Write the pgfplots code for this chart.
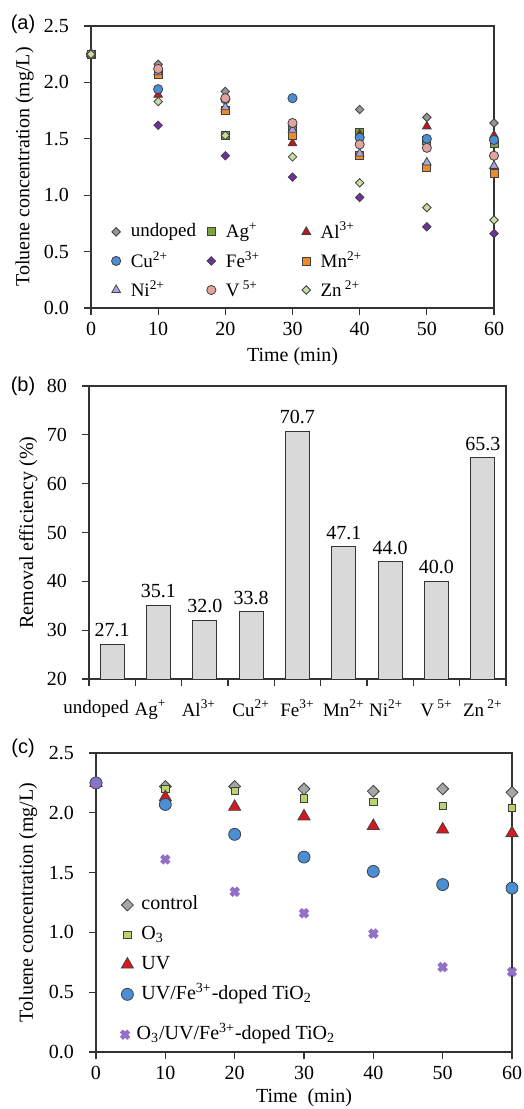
\documentclass[border=0pt]{standalone}
\usepackage{pgfplots}
\pgfplotsset{compat=1.18}
\usepackage{fontspec}
\setmainfont{Liberation Serif}
\newfontfamily\sansf{Liberation Sans}

\definecolor{cUnd}{HTML}{969696}
\definecolor{cAg}{HTML}{7BA33F}
\definecolor{cAl}{HTML}{C0161E}
\definecolor{cCu}{HTML}{4A8FD6}
\definecolor{cFe}{HTML}{7030A0}
\definecolor{cMn}{HTML}{EE8A2A}
\definecolor{cNi}{HTML}{A8A8E0}
\definecolor{cV}{HTML}{E5A3A0}
\definecolor{cZn}{HTML}{C8DCA0}
\definecolor{cCtl}{HTML}{A6A6A6}
\definecolor{cO3}{HTML}{B9D36E}
\definecolor{cUV}{HTML}{D7191F}
\definecolor{cUVFe}{HTML}{4A8FD6}
\definecolor{cX}{HTML}{9370C8}
\definecolor{barGray}{HTML}{D9D9D9}

\pgfplotsset{
  /pgf/number format/assume math mode=true,
  myax/.style={
    scale only axis,
    axis line style={line width=0.7pt, draw=black!80},
    tick style={line width=0.6pt, draw=black!80},
    tick align=outside,
    major tick length=3.5pt,
    minor tick length=3.5pt,
    xtick pos=left, ytick pos=left,
    font=\fontsize{10}{12}\selectfont,
    yticklabel style={xshift=-4pt},
  },
  mk/.style={only marks, mark options={draw=black!75, line width=0.4pt, fill=#1}},
  mkd/.style={only marks, mark=square*, mark options={draw=black!75, line width=0.4pt, fill=#1, rotate=45}},
  cleg/.style={
    legend image code/.code={\draw[##1] plot coordinates {(0pt,0pt)};},
    legend cell align=left,
    legend style={draw=none, fill=none, inner sep=0pt,
      font=\fontsize{10}{12}\selectfont,
      nodes={inner sep=2pt, text height=7.5pt, text depth=2.5pt},
      /tikz/every odd column/.append style={column sep=2pt},
      /tikz/row sep=0.9pt},
  },
}

\begin{document}
\begin{tikzpicture}
\useasboundingbox (0,0) rectangle (262pt,-554.5pt);

% ---------------- (a) ----------------
\begin{axis}[myax,
  at={(45.5pt,-154pt)}, anchor=south west,
  width=201.5pt, height=141pt,
  xmin=0, xmax=60, ymin=0, ymax=2.5,
  xtick={0,10,...,60}, ytick={0,0.5,...,2.5},
  yticklabel style={/pgf/number format/.cd, fixed, fixed zerofill, precision=1},
  clip=false,
  xlabel={Time (min)},
  xlabel style={at={(axis description cs:0.5,-0.172)}, anchor=center},
  ylabel={Toluene concentration (mg/L)},
  ylabel style={at={(axis description cs:-0.165,0.5)}, anchor=center},
  legend columns=3,
  legend image code/.code={\draw[#1] plot coordinates {(0pt,0pt)};},
  legend style={draw=none, fill=none, inner sep=0pt,
    at={(axis description cs:0.05,0.32)}, anchor=north west,
    font=\fontsize{9.5}{11}\selectfont,
    nodes={text width=36pt, align=left, inner sep=2pt},
    /tikz/every odd column/.append style={column sep=3pt},
    /tikz/row sep=0.8pt},
]
\addplot[mkd=cUnd, mark size=1.5pt] coordinates {(0,2.25)(10,2.16)(20,1.92)(30,1.62)(40,1.76)(50,1.69)(60,1.64)};
\addlegendentry{undoped}
\addplot[mk=cAg, mark=square*, mark size=2pt] coordinates {(0,2.25)(10,2.08)(20,1.53)(30,1.60)(40,1.56)(50,1.49)(60,1.46)};
\addlegendentry{Ag\textsuperscript{+}}
\addplot[mk=cAl, mark=triangle*, mark size=2.5pt] coordinates {(0,2.25)(10,1.89)(20,1.76)(30,1.46)(40,1.54)(50,1.61)(60,1.53)};
\addlegendentry{Al\textsuperscript{3+}}
\addplot[mk=cCu, mark=*, mark size=2.3pt] coordinates {(0,2.25)(10,1.94)(20,1.85)(30,1.86)(40,1.51)(50,1.50)(60,1.49)};
\addlegendentry{Cu\textsuperscript{2+}}
\addplot[mkd=cFe, mark size=1.5pt] coordinates {(0,2.25)(10,1.62)(20,1.35)(30,1.16)(40,0.98)(50,0.72)(60,0.66)};
\addlegendentry{Fe\textsuperscript{3+}}
\addplot[mk=cMn, mark=square*, mark size=2pt] coordinates {(0,2.25)(10,2.07)(20,1.75)(30,1.53)(40,1.35)(50,1.25)(60,1.19)};
\addlegendentry{Mn\textsuperscript{2+}}
\addplot[mk=cNi, mark=triangle*, mark size=2.5pt] coordinates {(0,2.25)(10,2.09)(20,1.78)(30,1.58)(40,1.37)(50,1.29)(60,1.26)};
\addlegendentry{Ni\textsuperscript{2+}}
\addplot[mk=cV, mark=*, mark size=2.3pt] coordinates {(0,2.25)(10,2.12)(20,1.86)(30,1.64)(40,1.45)(50,1.42)(60,1.35)};
\addlegendentry{V\,\textsuperscript{5+}}
\addplot[mkd=cZn, mark size=1.5pt] coordinates {(0,2.25)(10,1.83)(20,1.53)(30,1.34)(40,1.11)(50,0.89)(60,0.78)};
\addlegendentry{Zn\,\textsuperscript{2+}}
\end{axis}

% ---------------- (b) ----------------
\begin{axis}[myax,
  at={(44.5pt,-339.5pt)}, anchor=south west,
  width=208.5pt, height=146.5pt,
  ymin=20, ymax=80, ytick={20,30,...,80},
  xmin=-0.5, xmax=8.5,
  xtick={0,...,8},
  xticklabels={undoped\hspace{16pt}\mbox{}, Ag\textsuperscript{+}\hspace{8pt}\mbox{}, Al\textsuperscript{3+}\hspace{6pt}\mbox{}, Cu\textsuperscript{2+}, Fe\textsuperscript{3+}, Mn\textsuperscript{2+}, Ni\textsuperscript{2+}\hspace{4pt}\mbox{}, V\,\textsuperscript{5+}, Zn\,\textsuperscript{2+}},
  xticklabel style={font=\fontsize{9.5}{11}\selectfont, yshift=-3.5pt},
  major x tick style={draw=none},
  minor xtick={-0.5,0.5,...,8.5},
  ybar, bar width=12pt,
  nodes near coords,
  every node near coord/.append style={/pgf/number format/.cd, fixed, fixed zerofill, precision=1},
  ylabel={Removal efficiency (\%)},
  ylabel style={at={(axis description cs:-0.146,0.5)}, anchor=center},
]
\addplot[fill=barGray, draw=black!80, line width=0.5pt] coordinates {(0,27.1)(1,35.1)(2,32.0)(3,33.8)(4,70.7)(5,47.1)(6,44.0)(7,40.0)(8,65.3)};
\end{axis}

% ---------------- (c) ----------------
\begin{axis}[myax, cleg,
  at={(48pt,-526pt)}, anchor=south west,
  width=208pt, height=149.5pt,
  xmin=0, xmax=60, ymin=0, ymax=2.5,
  xtick={0,10,...,60}, ytick={0,0.5,...,2.5},
  yticklabel style={/pgf/number format/.cd, fixed, fixed zerofill, precision=1},
  clip=false,
  xlabel={Time\ \ (min)},
  xlabel style={at={(axis description cs:0.5,-0.154)}, anchor=center},
  ylabel={Toluene concentration (mg/L)},
  ylabel style={at={(axis description cs:-0.163,0.5)}, anchor=center},
  legend style={at={(axis description cs:0.06,0.54)}, anchor=north west},
]
\addplot[mkd=cCtl, mark size=2.1pt] coordinates {(0,2.25)(10,2.22)(20,2.22)(30,2.20)(40,2.18)(50,2.20)(60,2.17)};
\addlegendentry{control}
\addplot[mk=cO3, mark=square*, mark size=1.8pt] coordinates {(0,2.25)(10,2.20)(20,2.18)(30,2.12)(40,2.09)(50,2.06)(60,2.04)};
\addlegendentry{O\textsubscript{3}}
\addplot[mk=cUV, mark=triangle*, mark size=3.5pt] coordinates {(0,2.25)(10,2.13)(20,2.05)(30,1.97)(40,1.89)(50,1.86)(60,1.83)};
\addlegendentry{UV}
\addplot[mk=cUVFe, mark=*, mark size=3pt] coordinates {(0,2.25)(10,2.07)(20,1.82)(30,1.63)(40,1.51)(50,1.40)(60,1.37)};
\addlegendentry{UV/Fe\textsuperscript{3+}-doped TiO\textsubscript{2}}
\end{axis}

% overlay axis for the last series of (c), with its own legend
\begin{axis}[myax, cleg, hide axis,
  at={(48pt,-526pt)}, anchor=south west,
  width=208pt, height=149.5pt,
  xmin=0, xmax=60, ymin=0, ymax=2.5,
  clip=false,
  legend style={at={(axis description cs:0.06,0.058)}, anchor=west},
]
\addplot[only marks, mark=x, mark size=2.6pt, mark options={draw=cX, line width=2.2pt}] coordinates {(0,2.25)(10,1.61)(20,1.34)(30,1.16)(40,0.99)(50,0.71)(60,0.67)};
\addlegendentry{O\textsubscript{3}/UV/Fe\textsuperscript{3+}-doped TiO\textsubscript{2}}
\end{axis}

\node[font=\sansf\fontsize{10}{12}\selectfont] at (11.5pt,-12pt) {(a)};
\node[font=\sansf\fontsize{10}{12}\selectfont] at (11.5pt,-193pt) {(b)};
\node[font=\sansf\fontsize{10}{12}\selectfont] at (11.5pt,-374pt) {(c)};
\end{tikzpicture}
\end{document}
